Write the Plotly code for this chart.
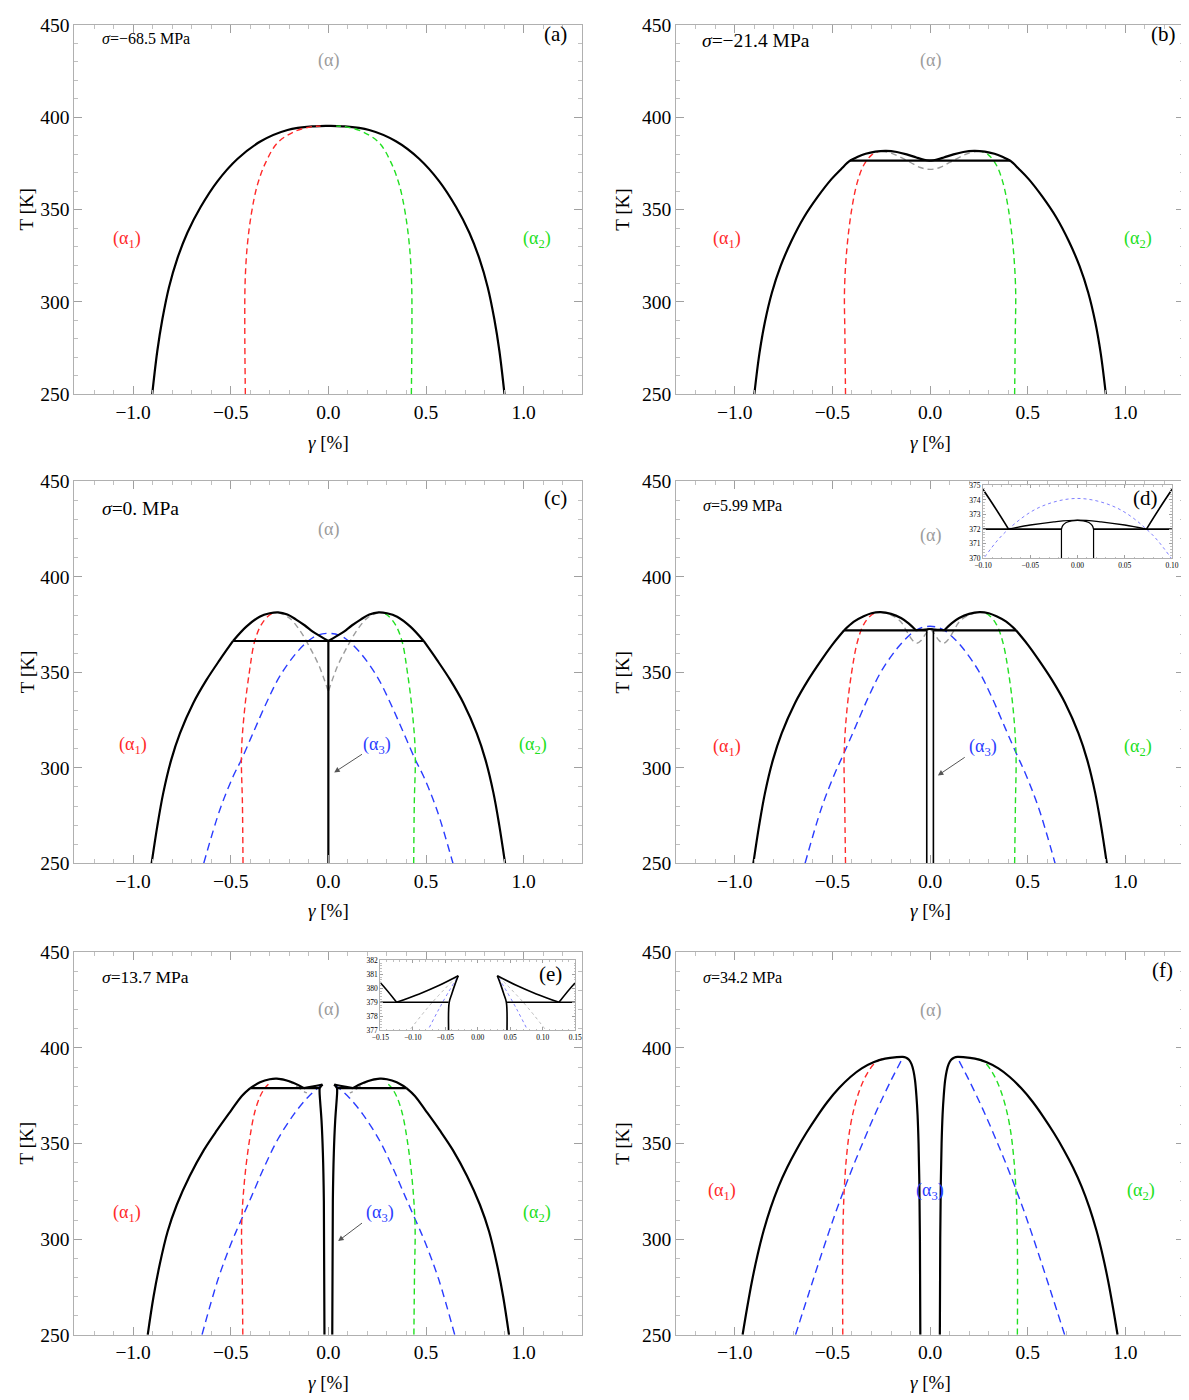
import plotly.graph_objects as go

FONT = "Liberation Serif"
BLACK = "#000000"
RED = "#ff2a2a"
GREEN = "#22e022"
BLUE = "#2a3cff"
GRAY = "#9c9c9c"
LBLUE = "#7f7fff"

# ---------------- panel (a): sigma = -68.5 MPa ----------------
A_OUT_G = [-0.902, -0.876, -0.85, -0.816, -0.773, -0.722, -0.654, -0.568, -0.466, -0.346, -0.209, -0.073, 0.0,
           0.073, 0.209, 0.346, 0.466, 0.568, 0.654, 0.722, 0.773, 0.816, 0.85, 0.876, 0.902]
A_OUT_T = [250, 273.3, 290.6, 308, 323.6, 337.5, 351.4, 365.3, 377.4, 387, 393.1, 395.1, 395.3,
           395.1, 393.1, 387, 377.4, 365.3, 351.4, 337.5, 323.6, 308, 290.6, 273.3, 250]
A_RED_G = [-0.425, -0.428, -0.426, -0.415, -0.394, -0.363, -0.32, -0.261, -0.175, -0.09, -0.04]
A_GRN_G = [0.425, 0.428, 0.426, 0.415, 0.394, 0.363, 0.32, 0.261, 0.175, 0.09, 0.04]
A_SPIN_T = [250, 287, 311.5, 330.6, 347.9, 363.5, 375.7, 386.1, 392.2, 394.8, 395.2]

# ---------------- panel (b): sigma = -21.4 MPa ----------------
B_OUTL_G = [-0.90, -0.874, -0.846, -0.81, -0.765, -0.71, -0.645, -0.575, -0.505, -0.455, -0.41,
            -0.37, -0.33, -0.28, -0.225, -0.17, -0.12, -0.07, -0.03, 0.0]
B_OUTR_G = [0.90, 0.874, 0.846, 0.81, 0.765, 0.71, 0.645, 0.575, 0.505, 0.455, 0.41,
            0.37, 0.33, 0.28, 0.225, 0.17, 0.12, 0.07, 0.03, 0.0]
B_OUT_T = [250, 272, 289, 305, 319.5, 333, 346, 357, 366.5, 372, 376.5,
           378.6, 380.2, 381.4, 381.8, 381.2, 379.9, 378.2, 377, 376.5]
B_TIE_G = [-0.41, 0.41]
B_TIE_T = [376.5, 376.5]
B_GRAY_G = [-0.25, -0.20, -0.15, -0.10, -0.05, 0.0, 0.05, 0.10, 0.15, 0.20, 0.25]
B_GRAY_T = [381.5, 380.6, 378.3, 375.5, 372.8, 371.8, 372.8, 375.5, 378.3, 380.6, 381.5]
B_RED_G = [-0.433, -0.436, -0.438, -0.425, -0.40, -0.372, -0.34, -0.30, -0.265]
B_GRN_G = [0.433, 0.436, 0.438, 0.425, 0.40, 0.372, 0.34, 0.30, 0.265]
B_SPIN_T = [250, 281, 307, 330, 351, 365, 374, 379.5, 381.5]

# ---------------- panel (c): sigma = 0 MPa ----------------
C_OUTL_G = [-0.905, -0.875, -0.845, -0.805, -0.76, -0.692, -0.624, -0.556, -0.488]
C_OUTR_G = [0.905, 0.875, 0.845, 0.805, 0.76, 0.692, 0.624, 0.556, 0.488]
C_OUT_T = [250, 270, 287, 304, 318, 333.8, 346, 356.5, 366.4]
C_BUMPL_G = [-0.488, -0.42, -0.352, -0.30, -0.258, -0.21, -0.165, -0.12, -0.08, -0.04, 0.0]
C_BUMPR_G = [0.488, 0.42, 0.352, 0.30, 0.258, 0.21, 0.165, 0.12, 0.08, 0.04, 0.0]
C_BUMP_T = [366.4, 373.9, 379.1, 380.9, 381.4, 380.3, 377.6, 374.5, 371.3, 368.8, 366.4]
C_TIE_G = [-0.488, 0.488]
C_TIE_T = [366.4, 366.4]
C_VERT_G = [0.0, 0.0]
C_VERT_T = [250, 366.4]
C_GRAYL_G = [-0.258, -0.2, -0.148, -0.097, -0.046, 0.0]
C_GRAYR_G = [0.258, 0.2, 0.148, 0.097, 0.046, 0.0]
C_GRAY_T = [381.4, 378.5, 372.2, 363.4, 353, 339.9]
C_RED_G = [-0.437, -0.44, -0.445, -0.429, -0.403, -0.378, -0.344, -0.301, -0.27]
C_GRN_G = [0.437, 0.44, 0.445, 0.429, 0.403, 0.378, 0.344, 0.301, 0.27]
C_SPIN_T = [250, 281.4, 307.6, 330.3, 351.2, 366, 374.8, 380, 381.2]
C_BLUE_G = [-0.638, -0.556, -0.488, -0.446, -0.386, -0.318, -0.25, -0.165, -0.097, -0.054, 0.0,
            0.054, 0.097, 0.165, 0.25, 0.318, 0.386, 0.446, 0.488, 0.556, 0.638]
C_BLUE_T = [250, 277.9, 295.4, 304.1, 318.1, 333.8, 347.7, 360, 366.9, 369.5, 370.4,
            369.5, 366.9, 360, 347.7, 333.8, 318.1, 304.1, 295.4, 277.9, 250]

# ---------------- panel (d): sigma = 5.99 MPa ----------------
D_OUTL_G = [-0.905, -0.875, -0.845, -0.805, -0.76, -0.692, -0.624, -0.556, -0.50, -0.44]
D_OUTR_G = [0.905, 0.875, 0.845, 0.805, 0.76, 0.692, 0.624, 0.556, 0.50, 0.44]
D_OUT_T = [250, 270, 287, 304, 318, 333.8, 346, 356.5, 364.5, 372]
D_BUMPL_G = [-0.44, -0.39, -0.34, -0.30, -0.254, -0.20, -0.149, -0.11, -0.073]
D_BUMPR_G = [0.44, 0.39, 0.34, 0.30, 0.254, 0.20, 0.149, 0.11, 0.073]
D_BUMP_T = [372, 376.5, 379.3, 380.9, 381.5, 380.6, 378.4, 375.6, 372]
D_MID_G = [-0.073, -0.05, -0.025, 0.0, 0.025, 0.05, 0.073]
D_MID_T = [372, 372.28, 372.5, 372.62, 372.5, 372.28, 372]
D_CAP_G = [-0.017, -0.0155, -0.012, -0.006, 0.0, 0.006, 0.012, 0.0155, 0.017]
D_CAP_T = [372, 372.25, 372.45, 372.57, 372.6, 372.57, 372.45, 372.25, 372]
D_TIEL_G = [-0.44, -0.017]
D_TIER_G = [0.017, 0.44]
D_TIE_T = [372, 372]
D_VERTL_G = [-0.017, -0.017]
D_VERTR_G = [0.017, 0.017]
D_VERT_T = [250, 372]
D_GRAY_G = [-0.254, -0.20, -0.15, -0.12, -0.09, -0.068, -0.045, -0.02, 0.0,
            0.02, 0.045, 0.068, 0.09, 0.12, 0.15, 0.20, 0.254]
D_GRAY_T = [381.5, 380, 376.5, 371.5, 366.8, 365.2, 366.8, 370.5, 372.4,
            370.5, 366.8, 365.2, 366.8, 371.5, 376.5, 380, 381.5]
D_RED_G = [-0.433, -0.437, -0.44, -0.426, -0.40, -0.372, -0.34, -0.30, -0.264]
D_GRN_G = [0.433, 0.437, 0.44, 0.426, 0.40, 0.372, 0.34, 0.30, 0.264]
D_SPIN_T = [250, 281, 307, 330, 351, 366, 375, 380, 381.5]
D_BLUE_G = [-0.64, -0.556, -0.488, -0.446, -0.386, -0.318, -0.25, -0.165, -0.097, -0.073, -0.04, 0.0,
            0.04, 0.073, 0.097, 0.165, 0.25, 0.318, 0.386, 0.446, 0.488, 0.556, 0.64]
D_BLUE_T = [250, 279, 297, 306.5, 320.5, 336.5, 350.5, 363, 370.2, 372, 373.5, 374.1,
            373.5, 372, 370.2, 363, 350.5, 336.5, 320.5, 306.5, 297, 279, 250]

# ---------------- panel (e): sigma = 13.7 MPa ----------------
E_OUTL_G = [-0.925, -0.895, -0.863, -0.823, -0.776, -0.71, -0.637, -0.57, -0.50, -0.443, -0.40]
E_OUTR_G = [0.925, 0.895, 0.863, 0.823, 0.776, 0.71, 0.637, 0.57, 0.50, 0.443, 0.40]
E_OUT_T = [250, 270, 287, 304, 318, 333, 346.7, 357, 367, 374.9, 379]
E_BUMPL_G = [-0.40, -0.35, -0.30, -0.264, -0.20, -0.15, -0.125]
E_BUMPR_G = [0.40, 0.35, 0.30, 0.264, 0.20, 0.15, 0.125]
E_BUMP_T = [379, 382, 383.6, 383.9, 382.6, 380.4, 379]
E_RISEL_G = [-0.125, -0.09, -0.06, -0.03]
E_RISER_G = [0.125, 0.09, 0.06, 0.03]
E_RISE_T = [379, 379.6, 380.2, 380.9]
E_INL_G = [-0.03, -0.035, -0.04, -0.044, -0.045, -0.042, -0.035, -0.028, -0.023, -0.02]
E_INR_G = [0.03, 0.035, 0.04, 0.044, 0.045, 0.042, 0.035, 0.028, 0.023, 0.02]
E_IN_T = [380.9, 380.3, 379.6, 379, 377, 372, 362, 345, 320, 250]
E_TIEL_G = [-0.40, -0.045]
E_TIER_G = [0.045, 0.40]
E_TIE_T = [379, 379]
E_GRAYL_G = [-0.26, -0.2, -0.16, -0.13, -0.11]
E_GRAYR_G = [0.26, 0.2, 0.16, 0.13, 0.11]
E_GRAY_T = [383.9, 382.3, 379.8, 377.5, 376.5]
E_GDOTL_G = [-0.033, -0.07, -0.105]
E_GDOTR_G = [0.033, 0.07, 0.105]
E_GDOT_T = [380.8, 379, 377]
E_RED_G = [-0.438, -0.441, -0.444, -0.43, -0.405, -0.378, -0.348, -0.325, -0.307]
E_GRN_G = [0.438, 0.441, 0.444, 0.43, 0.405, 0.378, 0.348, 0.325, 0.307]
E_SPIN_T = [250, 281, 307, 330, 351, 366, 375, 379, 381]
E_BLUEL_G = [-0.647, -0.565, -0.497, -0.455, -0.395, -0.327, -0.26, -0.175, -0.107, -0.06, -0.03]
E_BLUER_G = [0.647, 0.565, 0.497, 0.455, 0.395, 0.327, 0.26, 0.175, 0.107, 0.06, 0.03]
E_BLUE_T = [250, 279, 298, 308, 322, 338, 352, 365.5, 374, 378.5, 380.9]

# ---------------- panel (f): sigma = 34.2 MPa ----------------
F_OUTL_G = [-0.96, -0.937, -0.912, -0.884, -0.852, -0.816, -0.776, -0.732, -0.684, -0.634, -0.58, -0.524,
            -0.466, -0.408, -0.35, -0.29, -0.23, -0.17, -0.14, -0.125, -0.108, -0.095, -0.085, -0.077,
            -0.07, -0.064, -0.059, -0.055, -0.052, -0.05]
F_OUTR_G = [0.96, 0.937, 0.912, 0.884, 0.852, 0.816, 0.776, 0.732, 0.684, 0.634, 0.58, 0.524,
            0.466, 0.408, 0.35, 0.29, 0.23, 0.17, 0.14, 0.125, 0.108, 0.095, 0.085, 0.077,
            0.07, 0.064, 0.059, 0.055, 0.052, 0.05]
F_OUT_T = [250, 264, 278, 291.5, 304.5, 316.5, 327.5, 337.5, 346.8, 355.5, 364, 372,
           379, 384.8, 389.3, 392.5, 394.4, 395.2, 395.3, 395.0, 393.8, 391.5, 388, 383,
           375, 365, 350, 330, 300, 250]
F_RED_G = [-0.447, -0.448, -0.446, -0.44, -0.428, -0.41, -0.385, -0.355, -0.32, -0.28, -0.23]
F_GRN_G = [0.447, 0.448, 0.446, 0.44, 0.428, 0.41, 0.385, 0.355, 0.32, 0.28, 0.23]
F_SPIN_T = [250, 280, 305, 325, 343, 358, 370, 379.5, 387, 392.3, 395]
F_BLUEL_G = [-0.689, -0.62, -0.55, -0.48, -0.41, -0.34, -0.27, -0.2, -0.14]
F_BLUER_G = [0.689, 0.62, 0.55, 0.48, 0.41, 0.34, 0.27, 0.2, 0.14]
F_BLUE_T = [250, 272, 294, 315, 334, 351.5, 368, 383, 394.8]

# ---------------- labels ----------------
PANEL_TAGS = ["(a)", "(b)", "(c)", "(d)", "(e)", "(f)"]
SIGMA_TEXT = ["<i>σ</i>=−68.5 MPa", "<i>σ</i>=−21.4 MPa", "<i>σ</i>=0. MPa",
              "<i>σ</i>=5.99 MPa", "<i>σ</i>=13.7 MPa", "<i>σ</i>=34.2 MPa"]
SIGMA_SIZE = [16, 19.5, 19.5, 16, 17.5, 16]

fig = go.Figure()


def ax_names(n):
    return ("x", "y") if n == 1 else (f"x{n}", f"y{n}")


def add(g, t, n, color, width=2.0, dash="solid", smooth=1.0):
    xa, ya = ax_names(n)
    fig.add_trace(go.Scatter(x=g, y=t, xaxis=xa, yaxis=ya, mode="lines",
                             line=dict(color=color, width=width, dash=dash,
                                       shape="spline", smoothing=smooth),
                             hoverinfo="skip", showlegend=False))


DR = "6px,4px"     # red/green/gray dashes
DB = "8px,5px"     # blue dashes
OW = 2.2           # boundary width
SW = 1.4           # spinodal width

# (a)
add(A_OUT_G, A_OUT_T, 1, BLACK, OW)
add(A_RED_G, A_SPIN_T, 1, RED, SW, DR)
add(A_GRN_G, A_SPIN_T, 1, GREEN, SW, DR)

# (b)
add(B_RED_G, B_SPIN_T, 2, RED, SW, DR)
add(B_GRN_G, B_SPIN_T, 2, GREEN, SW, DR)
add(B_GRAY_G, B_GRAY_T, 2, GRAY, SW, DR)
add(B_OUTL_G, B_OUT_T, 2, BLACK, OW)
add(B_OUTR_G, B_OUT_T, 2, BLACK, OW)
add(B_TIE_G, B_TIE_T, 2, BLACK, OW)

# (c)
add(C_BLUE_G, C_BLUE_T, 3, BLUE, SW, DB)
add(C_RED_G, C_SPIN_T, 3, RED, SW, DR)
add(C_GRN_G, C_SPIN_T, 3, GREEN, SW, DR)
add(C_GRAYL_G, C_GRAY_T, 3, GRAY, SW, DR)
add(C_GRAYR_G, C_GRAY_T, 3, GRAY, SW, DR)
add(C_OUTL_G, C_OUT_T, 3, BLACK, OW)
add(C_OUTR_G, C_OUT_T, 3, BLACK, OW)
add(C_BUMPL_G, C_BUMP_T, 3, BLACK, OW)
add(C_BUMPR_G, C_BUMP_T, 3, BLACK, OW)
add(C_TIE_G, C_TIE_T, 3, BLACK, OW)
add(C_VERT_G, C_VERT_T, 3, BLACK, OW)

# (d) main panel (4) and its inset (7)
for n, wmul in ((4, 1.0), (7, 0.75)):
    if n == 4:
        add(D_BLUE_G, D_BLUE_T, n, BLUE, SW, DB)
        add(D_RED_G, D_SPIN_T, n, RED, SW, DR)
        add(D_GRN_G, D_SPIN_T, n, GREEN, SW, DR)
        add(D_GRAY_G, D_GRAY_T, n, GRAY, SW, DR)
        add(D_OUTL_G, D_OUT_T, n, BLACK, OW)
        add(D_OUTR_G, D_OUT_T, n, BLACK, OW)
    else:
        add(D_BLUE_G, D_BLUE_T, n, LBLUE, 1.0, "dot")
    add(D_BUMPL_G, D_BUMP_T, n, BLACK, OW * wmul)
    add(D_BUMPR_G, D_BUMP_T, n, BLACK, OW * wmul)
    add(D_MID_G, D_MID_T, n, BLACK, OW * wmul * 0.8)
    add(D_CAP_G, D_CAP_T, n, BLACK, OW * wmul * 0.8)
    add(D_TIEL_G, D_TIE_T, n, BLACK, OW * wmul)
    add(D_TIER_G, D_TIE_T, n, BLACK, OW * wmul)
    add(D_VERTL_G, D_VERT_T, n, BLACK, 1.6 * wmul)
    add(D_VERTR_G, D_VERT_T, n, BLACK, 1.6 * wmul)

# (e) main panel (5) and its inset (8)
for n, wmul in ((5, 1.0), (8, 0.75)):
    if n == 5:
        add(E_BLUEL_G, E_BLUE_T, n, BLUE, SW, DB)
        add(E_BLUER_G, E_BLUE_T, n, BLUE, SW, DB)
        add(E_RED_G, E_SPIN_T, n, RED, SW, DR)
        add(E_GRN_G, E_SPIN_T, n, GREEN, SW, DR)
        add(E_GRAYL_G, E_GRAY_T, n, GRAY, SW, DR)
        add(E_GRAYR_G, E_GRAY_T, n, GRAY, SW, DR)
        add(E_OUTL_G, E_OUT_T, n, BLACK, OW)
        add(E_OUTR_G, E_OUT_T, n, BLACK, OW)
    else:
        add(E_GDOTL_G, E_GDOT_T, n, "#b8b8b8", 1.0, "dot")
        add(E_GDOTR_G, E_GDOT_T, n, "#b8b8b8", 1.0, "dot")
        add(E_BLUEL_G, E_BLUE_T, n, LBLUE, 1.0, "dot")
        add(E_BLUER_G, E_BLUE_T, n, LBLUE, 1.0, "dot")
    add(E_BUMPL_G, E_BUMP_T, n, BLACK, OW * wmul)
    add(E_BUMPR_G, E_BUMP_T, n, BLACK, OW * wmul)
    add(E_RISEL_G, E_RISE_T, n, BLACK, OW * wmul)
    add(E_RISER_G, E_RISE_T, n, BLACK, OW * wmul)
    add(E_INL_G, E_IN_T, n, BLACK, OW * wmul)
    add(E_INR_G, E_IN_T, n, BLACK, OW * wmul)
    add(E_TIEL_G, E_TIE_T, n, BLACK, OW * wmul)
    add(E_TIER_G, E_TIE_T, n, BLACK, OW * wmul)

# (f)
add(F_BLUEL_G, F_BLUE_T, 6, BLUE, SW, DB)
add(F_BLUER_G, F_BLUE_T, 6, BLUE, SW, DB)
add(F_RED_G, F_SPIN_T, 6, RED, SW, DR)
add(F_GRN_G, F_SPIN_T, 6, GREEN, SW, DR)
add(F_OUTL_G, F_OUT_T, 6, BLACK, OW)
add(F_OUTR_G, F_OUT_T, 6, BLACK, OW)

# ---------------- axes ----------------
W, H = 1189, 1400
# the page is shown slightly offset and scaled; map target picture pixels to figure pixels
SX, CX = 0.987, 16.5
SY, CY = 0.985, 17.7


def px(xp):
    return min(1.0, max(0.0, ((xp - CX) / SX) / W))


def py(yp, lo=0.0):
    return min(1.0, max(0.0, 1 - max(lo, (yp - CY) / SY) / H))


COLX = [[px(74), px(582)], [px(676), px(1184)]]
ROWY = [[py(394), py(10.7, lo=7)], [py(863), py(481)], [py(1334.5), py(952)]]


def frame(domain, anchor, rng, tick0, dtick, mdtick, fmt, size, tl, mtl):
    return dict(domain=domain, anchor=anchor, range=rng, autorange=False,
                tick0=tick0, dtick=dtick, tickformat=fmt,
                ticks="inside", ticklen=tl, tickwidth=1, tickcolor="#a0a0a0",
                minor=dict(ticks="inside", dtick=mdtick, ticklen=mtl,
                           tickcolor="#c0c0c0", tickwidth=1),
                showline=True, linecolor="#b0b0b0", linewidth=1, mirror="allticks",
                showgrid=False, zeroline=False, fixedrange=True,
                tickfont=dict(family=FONT, size=size, color="black"))


layout = dict(width=W, height=H, margin=dict(l=0, r=0, t=0, b=0),
              paper_bgcolor="white", plot_bgcolor="white", showlegend=False)

for i in range(6):
    n = i + 1
    col, row = i % 2, i // 2
    xk = "xaxis" if n == 1 else f"xaxis{n}"
    yk = "yaxis" if n == 1 else f"yaxis{n}"
    xa, ya = ax_names(n)
    layout[xk] = frame(COLX[col], ya, [-1.3, 1.3], 0, 0.5, 0.1, ".1f", 19.5, 8, 4)
    layout[yk] = frame(ROWY[row], xa, [250, 450], 250, 50, 10, "d", 19.5, 8, 4)

# insets
layout["xaxis7"] = frame([px(983), px(1172)], "y7", [-0.1, 0.1], 0, 0.05, 0.01, ".2f", 7.5, 3, 1.5)
layout["yaxis7"] = frame([py(558), py(485)], "x7", [370, 375], 370, 1, 0.2, "d", 7.5, 3, 1.5)
layout["xaxis8"] = frame([px(380), px(575)], "y8", [-0.15, 0.15], 0, 0.05, 0.01, ".2f", 7.5, 3, 1.5)
layout["yaxis8"] = frame([py(1030), py(960)], "x8", [377, 382], 377, 1, 0.2, "d", 7.5, 3, 1.5)

# ---------------- annotations ----------------
ann = []


def txt(n, x, y, s, color="black", size=18, xanchor="center"):
    xa, ya = ax_names(n)
    ann.append(dict(x=x, y=y, xref=xa, yref=ya, text=s, showarrow=False,
                    font=dict(family=FONT, size=size, color=color),
                    xanchor=xanchor, yanchor="middle"))


def arrow(n, hx, hy, tx, ty):
    xa, ya = ax_names(n)
    ann.append(dict(x=hx, y=hy, xref=xa, yref=ya, ax=tx, ay=ty, axref=xa, ayref=ya,
                    text="", showarrow=True, arrowhead=2, arrowsize=1.1,
                    arrowwidth=1, arrowcolor="#555555"))


A1 = "(α<sub>1</sub>)"
A2 = "(α<sub>2</sub>)"
A3 = "(α<sub>3</sub>)"
AL = "(α)"

# top row label heights are given in the (slightly compressed) axis units of that row
txt(1, 0.0, 430.5, AL, GRAY); txt(1, -1.03, 334, A1, RED); txt(1, 1.07, 334, A2, GREEN)
txt(2, 0.0, 430.5, AL, GRAY); txt(2, -1.04, 334, A1, RED); txt(2, 1.067, 334, A2, GREEN)
txt(3, 0.0, 424.9, AL, GRAY); txt(3, -1.0, 311.8, A1, RED); txt(3, 1.046, 311.8, A2, GREEN)
txt(3, 0.25, 311.8, A3, BLUE)
txt(4, 0.0, 421.7, AL, GRAY); txt(4, -1.04, 310.7, A1, RED); txt(4, 1.067, 310.7, A2, GREEN)
txt(4, 0.27, 310.7, A3, BLUE)
txt(5, 0.0, 420.1, AL, GRAY); txt(5, -1.03, 313.5, A1, RED); txt(5, 1.07, 313.5, A2, GREEN)
txt(5, 0.265, 313.5, A3, BLUE)
txt(6, 0.0, 419.5, AL, GRAY); txt(6, -1.066, 325, A1, RED); txt(6, 1.08, 325, A2, GREEN)
txt(6, 0.0, 325, A3, BLUE)

arrow(3, 0.03, 297.6, 0.18, 307.6)
arrow(4, 0.04, 296.0, 0.185, 306.0)
arrow(5, 0.05, 299.0, 0.18, 309.0)

SIG_POS = [(-1.168, 442.5), (-1.18, 441.5), (-1.168, 436), (-1.175, 437.5), (-1.168, 437), (-1.175, 437)]
TAG_POS = [(1.163, 445), (1.195, 445), (1.163, 441), None, None, (1.19, 441)]
for i in range(6):
    n = i + 1
    txt(n, SIG_POS[i][0], SIG_POS[i][1], SIGMA_TEXT[i], "black", SIGMA_SIZE[i], "left")
    if TAG_POS[i] is not None:
        txt(n, TAG_POS[i][0], TAG_POS[i][1], PANEL_TAGS[i], "black", 21)
txt(7, 0.072, 374.1, PANEL_TAGS[3], "black", 21)
txt(8, 0.112, 381.0, PANEL_TAGS[4], "black", 21)

Y_TITLE_X = [max(px(20), 10 / W), px(622)]
X_TITLE_Y = [py(442), py(910), py(1382)]
for i in range(6):
    col, row = i % 2, i // 2
    ann.append(dict(x=Y_TITLE_X[col], y=(ROWY[row][0] + ROWY[row][1]) / 2, xref="paper", yref="paper",
                    text="T [K]", textangle=-90, showarrow=False, xanchor="center", yanchor="middle",
                    font=dict(family=FONT, size=19, color="black")))
    ann.append(dict(x=(COLX[col][0] + COLX[col][1]) / 2, y=X_TITLE_Y[row], xref="paper", yref="paper",
                    text="<i>γ</i> [%]", showarrow=False, xanchor="center", yanchor="middle",
                    font=dict(family=FONT, size=19, color="black")))

layout["annotations"] = ann
fig.update_layout(**layout)
fig.write_html("out.html")
